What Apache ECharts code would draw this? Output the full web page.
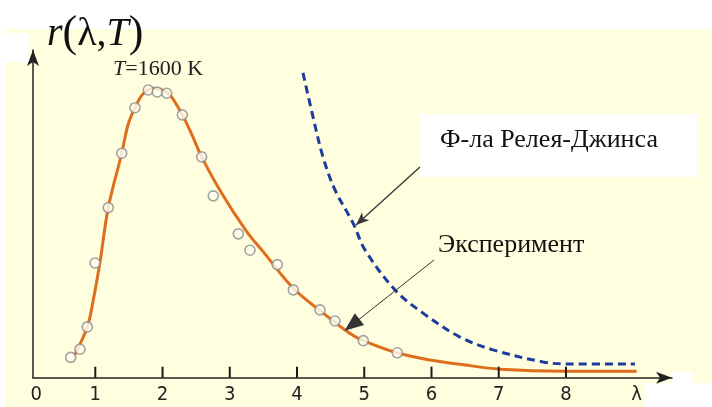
<!DOCTYPE html>
<html>
<head>
<meta charset="utf-8">
<script src="https://cdn.jsdelivr.net/npm/echarts@6/dist/echarts.min.js"></script>
<style>
  html, body { margin: 0; padding: 0; background: #ffffff; }
  #chart { width: 712px; height: 407px; }
</style>
</head>
<body>
<div id="chart"></div>
<script>
// ---- data (λ in μm, r in arbitrary units) ----
const curveX = [0.684, 0.881, 0.970, 1.070, 1.193, 1.393, 1.486, 1.590, 1.709, 1.863, 1.992, 2.111, 2.294, 2.438, 2.582, 2.880, 3.252, 3.499, 3.945, 4.391, 4.788, 4.986, 5.482, 5.978, 6.424, 7.019, 8.000, 9.050];
const curveY = [6.6, 15.5, 23.7, 35.3, 51.9, 68.5, 77.1, 82.4, 86.6, 88.3, 87.8, 86.3, 80.2, 74.1, 67.4, 56.3, 44.6, 38.4, 27.3, 19.7, 13.5, 11.3, 7.6, 5.4, 4.1, 2.6, 1.95, 1.95];

const dotX = [0.634, 0.772, 0.881, 0.996, 1.193, 1.393, 1.590, 1.788, 1.922, 2.062, 2.294, 2.582, 2.755, 3.127, 3.301, 3.707, 3.945, 4.342, 4.565, 4.986, 5.491];
const dotY = [6.2, 8.7, 15.5, 35.0, 51.9, 68.5, 82.4, 87.8, 87.2, 86.8, 80.2, 67.4, 55.5, 43.9, 38.9, 34.5, 26.8, 20.7, 17.3, 11.3, 7.6];

const rjX = [4.089, 4.238, 4.387, 4.565, 4.833, 5.011, 5.457, 5.874, 6.424, 6.915, 7.659, 8.000, 9.026];
const rjY = [93.0, 79.6, 67.3, 57.3, 47.2, 39.0, 26.8, 19.7, 12.4, 8.5, 4.8, 4.2, 4.2];

const xTicks = [1, 2, 3, 4, 5, 6, 7, 8];
const xLabelValues = [0.12, 1, 2, 3, 4, 5, 6, 7, 8, 9.05];
const xLabelTexts = ['0', '1', '2', '3', '4', '5', '6', '7', '8', 'λ'];

// annotation arrows (data coordinates)
const rjArrow = [[5.829, 64.3], [4.877, 46.6]];
const expArrow = [[6.037, 35.9], [4.818, 16.1]];

const zip = (xs, ys) => xs.map((x, i) => [x, ys[i]]);

const chart = echarts.init(document.getElementById('chart'), null, { renderer: 'canvas' });

const serif = '"Liberation Serif", "Times New Roman", serif';

const X_MIN = 0.0735, X_MAX = 9.577, Y_MIN = 0, Y_MAX = 100;
const PLOT_L = 33, PLOT_R = 672, PLOT_T = 50, PLOT_B = 377.7, W = 712, H = 407;
const tickLenY = 11 * (Y_MAX - Y_MIN) / (PLOT_B - PLOT_T); // 11 px tick height, in y units

chart.setOption({
  animation: false,
  backgroundColor: '#ffffff',
  graphic: [
    { type: 'rect', z: -10, shape: { x: 6, y: 29, width: 706, height: 378 }, style: { fill: '#FFFEDF' }, silent: true },
    { type: 'rect', z: -9, shape: { x: 6, y: 33, width: 23, height: 29 }, style: { fill: '#ffffff' }, silent: true },
    { type: 'rect', z: -9, shape: { x: 645, y: 383, width: 67, height: 24 }, style: { fill: '#ffffff' }, silent: true },
    { type: 'rect', z: -9, shape: { x: 672, y: 372, width: 21, height: 12 }, style: { fill: '#ffffff' }, silent: true },
    { type: 'rect', z: -9, shape: { x: 420, y: 114, width: 277, height: 63 }, style: { fill: '#ffffff' }, silent: true },
    {
      type: 'text', left: 47, top: 12, z: 10,
      style: {
        text: '{i|r}{p|(}{n|λ,}{i|T}{p|)}',
        rich: {
          i: { fontFamily: serif, fontStyle: 'italic', fontSize: 40, fill: '#111' },
          n: { fontFamily: serif, fontSize: 40, fill: '#111' },
          p: { fontFamily: serif, fontSize: 44, fill: '#111' }
        }
      }
    },
    {
      type: 'text', left: 113, top: 58, z: 10,
      style: {
        text: '{i|T}{n|=1600 K}',
        rich: {
          i: { fontFamily: serif, fontStyle: 'italic', fontSize: 22, fill: '#222' },
          n: { fontFamily: serif, fontSize: 22, fill: '#222' }
        }
      }
    },
    { type: 'text', left: 440, top: 127, z: 10, style: { text: 'Ф-ла Релея-Джинса', fontFamily: serif, fontSize: 26, fill: '#111' } },
    { type: 'text', left: 438, top: 232, z: 10, style: { text: 'Эксперимент', fontFamily: serif, fontSize: 26, fill: '#111' } }
  ],
  grid: { left: PLOT_L, right: W - PLOT_R, top: PLOT_T, bottom: H - PLOT_B, containLabel: false },
  xAxis: {
    type: 'value',
    min: X_MIN,
    max: X_MAX,
    splitLine: { show: false },
    axisLine: {
      show: true, onZero: false,
      symbol: ['none', 'arrow'], symbolSize: [9, 16],
      lineStyle: { color: '#222', width: 1.5 }
    },
    axisTick: { show: false },
    axisLabel: {
      show: true, customValues: xLabelValues, margin: 7,
      fontFamily: '"Liberation Sans Narrow", "DejaVu Sans Condensed", "Liberation Sans", Arial, sans-serif',
      fontSize: 20, color: '#222',
      formatter: (v) => {
        const i = xLabelValues.findIndex(t => Math.abs(t - v) < 1e-6);
        return i >= 0 ? xLabelTexts[i] : '';
      }
    }
  },
  yAxis: {
    type: 'value',
    min: Y_MIN,
    max: Y_MAX,
    splitLine: { show: false },
    axisLine: {
      show: true, onZero: false,
      symbol: ['none', 'arrow'], symbolSize: [9, 16],
      lineStyle: { color: '#222', width: 1.5 }
    },
    axisTick: { show: false },
    axisLabel: { show: false }
  },
  series: [
    {
      // inward tick marks at λ = 1..8, drawn as thin bars through the axis scales
      type: 'bar',
      name: 'ticks',
      data: xTicks.map(t => [t, tickLenY]),
      barWidth: 2,
      silent: true,
      itemStyle: { color: '#1a1a1a' },
      z: 6
    },
    {
      type: 'line',
      name: 'Rayleigh-Jeans',
      data: zip(rjX, rjY),
      showSymbol: false,
      smooth: 0.35,
      lineStyle: { color: '#1d3c9e', width: 3, type: [8, 5] },
      z: 3
    },
    {
      type: 'line',
      name: 'curve',
      data: zip(curveX, curveY),
      showSymbol: false,
      smooth: 0.35,
      lineStyle: { color: '#DE6E1C', width: 3 },
      z: 4
    },
    {
      type: 'scatter',
      name: 'experiment',
      data: zip(dotX, dotY),
      symbol: 'circle',
      symbolSize: 10,
      itemStyle: { color: '#FFFFF2', borderColor: '#8c8c8c', borderWidth: 1.6 },
      z: 5,
      markLine: {
        silent: true,
        animation: false,
        label: { show: false },
        emphasis: { disabled: true },
        data: [
          [
            { coord: rjArrow[0], symbol: 'none', lineStyle: { color: '#3a3a3a', width: 1.4, type: 'solid' } },
            { coord: rjArrow[1], symbol: 'arrow', symbolSize: [8, 13] }
          ],
          [
            { coord: expArrow[0], symbol: 'none', lineStyle: { color: '#333', width: 1, type: 'solid' } },
            { coord: expArrow[1], symbol: 'triangle', symbolSize: [15, 19] }
          ]
        ]
      }
    }
  ]
});
</script>
</body>
</html>
